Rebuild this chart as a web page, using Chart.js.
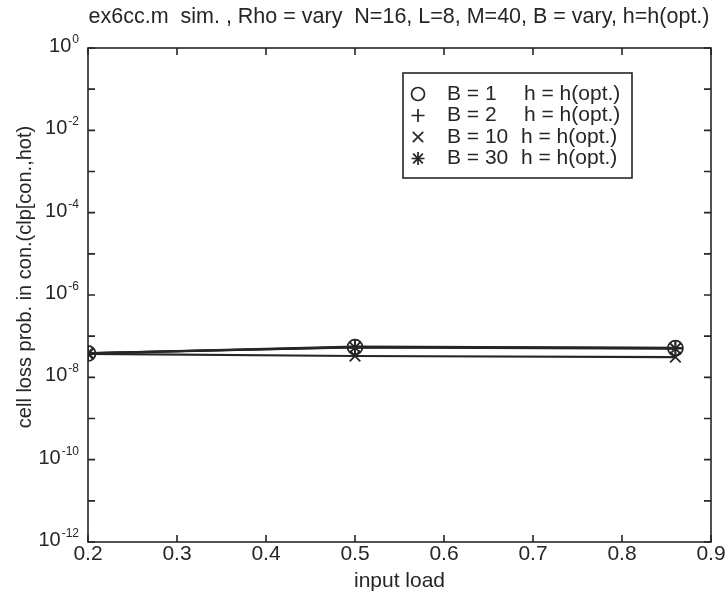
<!DOCTYPE html>
<html>
<head>
<meta charset="utf-8">
<script src="https://cdn.jsdelivr.net/npm/chart.js@4/dist/chart.umd.min.js"></script>
<style>
html,body{margin:0;padding:0;background:#fff;}
#wrap{width:726px;height:596px;position:relative;}
</style>
</head>
<body>
<div id="wrap"><canvas id="c" width="726" height="596"></canvas></div>
<script>
// ---- data ----
const inputLoad = [0.2, 0.5, 0.86];
const clpB1  = [3.8e-8, 5.4e-8, 5.1e-8];
const clpB2  = [3.8e-8, 5.6e-8, 5.2e-8];
const clpB10 = [3.7e-8, 3.3e-8, 3.1e-8];
const clpB30 = [3.9e-8, 5.3e-8, 5.0e-8];
const seriesLabels = ['B = 1', 'B = 2', 'B = 10', 'B = 30'];
const seriesNote = 'h = h(opt.)';
const xTicks = [0.2, 0.3, 0.4, 0.5, 0.6, 0.7, 0.8, 0.9];
const yTickExps = [-12,-11,-10,-9,-8,-7,-6,-5,-4,-3,-2,-1,0];
const yLabelExps = [-12,-10,-8,-6,-4,-2,0];
const titleText = 'ex6cc.m  sim. , Rho = vary  N=16, L=8, M=40, B = vary, h=h(opt.)';
const xTitle = 'input load';
const yTitle = 'cell loss prob. in con.(clp[con.,hot)';

const FONT = '"Liberation Sans", Arial, sans-serif';
const FS = 21;
const INK = '#262626';
const styles = ['circle', 'cross', 'crossRot', 'star'];
const seriesData = [clpB1, clpB2, clpB10, clpB30];

const datasets = seriesData.map((vals, i) => ({
  label: seriesLabels[i],
  data: inputLoad.map((x, j) => ({x: x, y: vals[j]})),
  borderColor: INK,
  borderWidth: 2.2,
  pointStyle: styles[i],
  pointRadius: 7.5,
  pointBorderWidth: 1.8,
  pointBorderColor: INK,
  pointBackgroundColor: 'rgba(0,0,0,0)',
  fill: false,
  tension: 0
}));

function drawMarker(ctx, style, x, y, r){
  ctx.save();
  ctx.strokeStyle = INK; ctx.lineWidth = 1.7;
  ctx.beginPath();
  if (style === 'circle') { ctx.arc(x, y, r, 0, Math.PI*2); }
  else if (style === 'cross') { ctx.moveTo(x-r,y); ctx.lineTo(x+r,y); ctx.moveTo(x,y-r); ctx.lineTo(x,y+r); }
  else if (style === 'crossRot') { const d=r*0.8; ctx.moveTo(x-d,y-d); ctx.lineTo(x+d,y+d); ctx.moveTo(x+d,y-d); ctx.lineTo(x-d,y+d); }
  else { const d=r*0.75; ctx.moveTo(x-r,y); ctx.lineTo(x+r,y); ctx.moveTo(x,y-r); ctx.lineTo(x,y+r); ctx.moveTo(x-d,y-d); ctx.lineTo(x+d,y+d); ctx.moveTo(x+d,y-d); ctx.lineTo(x-d,y+d); }
  ctx.stroke();
  ctx.restore();
}

const framePlugin = {
  id: 'frame',
  afterDraw(chart){
    const {ctx, chartArea: a, scales} = chart;
    ctx.save();
    ctx.strokeStyle = INK; ctx.lineWidth = 1.6;
    ctx.strokeRect(a.left, a.top, a.right - a.left, a.bottom - a.top);
    // inward ticks
    const tl = 7;
    ctx.beginPath();
    scales.x.ticks.forEach(t => {
      const px = scales.x.getPixelForValue(t.value);
      ctx.moveTo(px, a.bottom); ctx.lineTo(px, a.bottom - tl);
      ctx.moveTo(px, a.top); ctx.lineTo(px, a.top + tl);
    });
    scales.y.ticks.forEach(t => {
      const py = scales.y.getPixelForValue(t.value);
      ctx.moveTo(a.left, py); ctx.lineTo(a.left + tl, py);
      ctx.moveTo(a.right, py); ctx.lineTo(a.right - tl, py);
    });
    ctx.stroke();
    ctx.fillStyle = INK;
    // y tick labels with superscript exponents
    yLabelExps.forEach(e => {
      const py = scales.y.getPixelForValue(Math.pow(10, e));
      const exp = String(e);
      ctx.font = '12px ' + FONT;
      const ew = ctx.measureText(exp).width;
      const right = 79;
      ctx.textAlign = 'left'; ctx.textBaseline = 'alphabetic';
      ctx.fillText(exp, right - ew, py - 5);
      ctx.font = '20px ' + FONT;
      ctx.textAlign = 'right';
      ctx.fillText('10', right - ew - 1, py + 4);
    });
    // y title
    ctx.save();
    ctx.translate(25, 277);
    ctx.rotate(-Math.PI / 2);
    ctx.font = '20px ' + FONT;
    ctx.textAlign = 'center'; ctx.textBaseline = 'middle';
    ctx.fillText(yTitle, 0, 0);
    ctx.restore();
    // title
    ctx.font = '21.5px ' + FONT;
    ctx.textAlign = 'center'; ctx.textBaseline = 'middle';
    ctx.fillText(titleText, 399, 17);
    // legend
    const bx = 403, by = 73, bw = 229, bh = 105;
    ctx.fillStyle = '#fff';
    ctx.fillRect(bx, by, bw, bh);
    ctx.strokeRect(bx, by, bw, bh);
    ctx.fillStyle = INK;
    ctx.textAlign = 'left';
    ctx.font = FS + 'px ' + FONT;
    seriesLabels.forEach((lab, i) => {
      const yy = 94 + i * 21.5;
      drawMarker(ctx, styles[i], 418, yy, 6.5);
      ctx.fillText(lab, 447, yy);
      ctx.fillText(seriesNote, i < 2 ? 524 : 521, yy);
    });
    ctx.restore();
  }
};

new Chart(document.getElementById('c'), {
  type: 'line',
  data: { datasets },
  options: {
    responsive: false,
    animation: false,
    devicePixelRatio: 1,
    layout: { padding: { top: 48, right: 15, left: 0, bottom: 0 } },
    plugins: { legend: { display: false }, tooltip: { enabled: false }, title: { display: false } },
    scales: {
      x: {
        type: 'linear', min: 0.2, max: 0.9,
        afterBuildTicks: s => { s.ticks = xTicks.map(v => ({value: v})); },
        afterFit: s => { s.height = 54; },
        grid: { display: false, drawTicks: false },
        border: { display: false },
        ticks: { color: INK, font: { family: FONT, size: FS }, padding: 0, maxRotation: 0, autoSkip: false,
                 callback: v => Number(v).toFixed(1) },
        title: { display: true, text: xTitle, color: INK, font: { family: FONT, size: FS }, padding: { top: 0, bottom: 2 } }
      },
      y: {
        type: 'logarithmic', min: 1e-12, max: 1,
        afterBuildTicks: s => { s.ticks = yTickExps.map(e => ({value: Math.pow(10, e)})); },
        afterFit: s => { s.width = 88; },
        grid: { display: false, drawTicks: false },
        border: { display: false },
        ticks: { display: false },
        title: { display: false }
      }
    }
  },
  plugins: [framePlugin]
});
</script>
</body>
</html>
